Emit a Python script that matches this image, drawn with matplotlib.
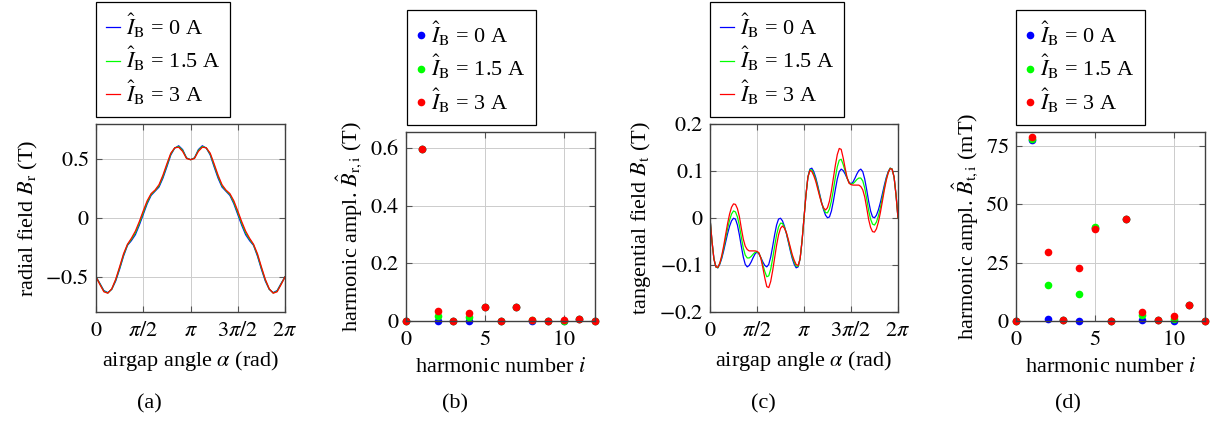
import numpy as np
import matplotlib
matplotlib.use('Agg')
import matplotlib.pyplot as plt

plt.rcParams['font.family'] = ['Liberation Serif', 'DejaVu Serif']
plt.rcParams['mathtext.fontset'] = 'stix'
FS = 16
plt.rcParams['font.size'] = FS

# panel (a): samples every pi/24 over 0..2pi
steps_a = list(range(49))
br_0 = [-0.495, -0.55, -0.61, -0.627, -0.60, -0.53, -0.43, -0.32, -0.23, -0.19, -0.14, -0.06,
        0.03, 0.12, 0.19, 0.225, 0.26, 0.335, 0.43, 0.53, 0.588, 0.607, 0.575, 0.505,
        0.49,
        0.505, 0.575, 0.607, 0.588, 0.53, 0.43, 0.335, 0.26, 0.225, 0.19, 0.12, 0.03,
        -0.06, -0.14, -0.19, -0.23, -0.32, -0.43, -0.53, -0.60, -0.627, -0.61, -0.55, -0.495]
br_15 = [-0.495, -0.555, -0.615, -0.63, -0.598, -0.522, -0.42, -0.31, -0.225, -0.18, -0.125, -0.045,
         0.045, 0.132, 0.198, 0.23, 0.27, 0.348, 0.443, 0.538, 0.589, 0.601, 0.568, 0.503,
         0.49,
         0.503, 0.568, 0.601, 0.589, 0.538, 0.443, 0.348, 0.27, 0.23, 0.198, 0.132, 0.045,
         -0.045, -0.125, -0.18, -0.225, -0.31, -0.42, -0.522, -0.598, -0.63, -0.615, -0.555, -0.495]
br_3 = [-0.495, -0.56, -0.62, -0.632, -0.595, -0.515, -0.41, -0.30, -0.22, -0.17, -0.11, -0.03,
        0.06, 0.145, 0.205, 0.235, 0.28, 0.36, 0.455, 0.545, 0.59, 0.595, 0.56, 0.50,
        0.49,
        0.50, 0.56, 0.595, 0.59, 0.545, 0.455, 0.36, 0.28, 0.235, 0.205, 0.145, 0.06,
        -0.03, -0.11, -0.17, -0.22, -0.30, -0.41, -0.515, -0.595, -0.632, -0.62, -0.56, -0.495]

# panel (c): samples every pi/48 over 0..2pi
steps_c = list(range(97))
bt_0 = [0, -0.049, -0.087, -0.104, -0.106, -0.0985, -0.086, -0.0695, -0.051, -0.033, -0.0174, -0.006,
        -0.0005, -0.0023, -0.0149, -0.0358, -0.0604, -0.083, -0.0987, -0.104, -0.101, -0.0937, -0.0845, -0.0764,
        -0.0722, -0.0764, -0.0845, -0.0937, -0.101, -0.104, -0.0987, -0.083, -0.0604, -0.0358, -0.0149, -0.0023,
        -0.0005, -0.006, -0.0174, -0.033, -0.051, -0.0695, -0.086, -0.0985, -0.106, -0.104, -0.087, -0.049,
        0,
        0.049, 0.087, 0.104, 0.106, 0.0985, 0.086, 0.0695, 0.051, 0.033, 0.0174, 0.006, 0.0005,
        0.0023, 0.0149, 0.0358, 0.0604, 0.083, 0.0987, 0.104, 0.101, 0.0937, 0.0845, 0.0764, 0.0722,
        0.0764, 0.0845, 0.0937, 0.101, 0.104, 0.0987, 0.083, 0.0604, 0.0358, 0.0149, 0.0023, 0.0005,
        0.006, 0.0174, 0.033, 0.051, 0.0695, 0.086, 0.0985, 0.106, 0.104, 0.087, 0.049, 0]
bt_15 = [0, -0.049, -0.087, -0.104, -0.106, -0.097, -0.083, -0.064, -0.043, -0.022, -0.0045, 0.0085,
         0.015, 0.013, 0.0025, -0.016, -0.041, -0.064, -0.079, -0.085, -0.085, -0.082, -0.077, -0.073,
         -0.072, -0.075, -0.085, -0.100, -0.114, -0.125, -0.123, -0.109, -0.086, -0.060, -0.036, -0.019,
         -0.011, -0.0115, -0.0195, -0.032, -0.0485, -0.066, -0.082, -0.094, -0.1025, -0.1025, -0.087, -0.049,
         0,
         0.049, 0.087, 0.1025, 0.1025, 0.094, 0.082, 0.066, 0.0485, 0.032, 0.0195, 0.0115, 0.011,
         0.019, 0.036, 0.060, 0.086, 0.109, 0.123, 0.125, 0.114, 0.100, 0.085, 0.075, 0.072,
         0.073, 0.077, 0.082, 0.085, 0.085, 0.079, 0.064, 0.041, 0.016, -0.0025, -0.013, -0.015,
         -0.0085, 0.0045, 0.022, 0.043, 0.064, 0.083, 0.097, 0.106, 0.104, 0.087, 0.049, 0]
bt_3 = [0, -0.049, -0.087, -0.104, -0.105, -0.096, -0.080, -0.059, -0.035, -0.0115, 0.0085, 0.023,
        0.030, 0.029, 0.020, 0.003, -0.022, -0.045, -0.060, -0.067, -0.070, -0.070, -0.070, -0.070,
        -0.071, -0.074, -0.086, -0.106, -0.128, -0.146, -0.148, -0.135, -0.112, -0.085, -0.058, -0.036,
        -0.022, -0.017, -0.0215, -0.031, -0.046, -0.062, -0.078, -0.090, -0.099, -0.101, -0.087, -0.049,
        0,
        0.049, 0.087, 0.101, 0.099, 0.090, 0.078, 0.062, 0.046, 0.031, 0.0215, 0.017, 0.022,
        0.036, 0.058, 0.085, 0.112, 0.135, 0.148, 0.146, 0.128, 0.106, 0.086, 0.074, 0.071,
        0.070, 0.070, 0.070, 0.070, 0.067, 0.060, 0.045, 0.022, -0.003, -0.020, -0.029, -0.030,
        -0.023, -0.0085, 0.0115, 0.035, 0.059, 0.080, 0.096, 0.105, 0.104, 0.087, 0.049, 0]

# harmonic amplitudes, panels (b) in T and (d) in mT
harm_i = list(range(13))
bri_0 = [0, 0.595, 0.0, 0, 0.0, 0.048, 0, 0.048, 0.0, 0, 0.0, 0.007, 0]
bri_15 = [0, 0.595, 0.018, 0, 0.015, 0.048, 0, 0.048, 0.002, 0, 0.001, 0.007, 0]
bri_3 = [0, 0.595, 0.035, 0, 0.027, 0.048, 0, 0.048, 0.003, 0, 0.002, 0.007, 0]
bti_0 = [0, 77.5, 0.9, 0.3, 0.0, 40.0, 0.2, 43.8, 0.6, 0.3, 0.0, 6.8, 0.2]
bti_15 = [0, 77.8, 15.4, 0.3, 11.5, 40.2, 0.2, 43.8, 2.6, 0.3, 1.0, 6.8, 0.2]
bti_3 = [0, 78.7, 29.5, 0.3, 22.8, 39.5, 0.2, 43.8, 4.0, 0.3, 2.1, 6.8, 0.2]

labels = [r'$\hat{I}_\mathrm{B}$ = 0 A',
          r'$\hat{I}_\mathrm{B}$ = 1.5 A',
          r'$\hat{I}_\mathrm{B}$ = 3 A']
colors = ['#0000ff', '#00ff00', '#ff0000']

W, H = 1211, 423
fig = plt.figure(figsize=(W / 100, H / 100), dpi=100)


def add_ax(left, top, right, bottom):
    return fig.add_axes([left / W, 1 - bottom / H, (right - left) / W, (bottom - top) / H])


def style(ax):
    ax.grid(True, color='#cccccc', lw=0.7)
    ax.set_axisbelow(True)
    for s in ax.spines.values():
        s.set_color('#404040')
        s.set_linewidth(1.0)
    ax.tick_params(direction='in', top=True, right=True, length=4, width=0.8,
                   color='#555555', labelsize=FS)
    ax.tick_params(axis='x', pad=7)
    ax.tick_params(axis='y', pad=5)


def legend(ax, x0, y0, marker):
    leg = ax.legend(loc='upper left', bbox_to_anchor=(x0 / W, 1 - y0 / H),
                    bbox_transform=fig.transFigure, borderaxespad=0,
                    fancybox=False, framealpha=1, edgecolor='black',
                    handlelength=0.4 if marker else 0.65, handletextpad=0.25,
                    labelspacing=0.22, borderpad=0.45, numpoints=1, fontsize=FS)
    leg.get_frame().set_linewidth(0.9)


alpha_a = np.array(steps_a) * np.pi / 24
alpha_c = np.array(steps_c) * np.pi / 48
pi_ticks = [0, np.pi / 2, np.pi, 3 * np.pi / 2, 2 * np.pi]
pi_labels = ['$0$', r'$\pi/2$', r'$\pi$', r'$3\pi/2$', r'$2\pi$']

# (a)
ax = add_ax(96, 124, 285, 312)
for ys, c, lab in zip([br_0, br_15, br_3], colors, labels):
    ax.plot(alpha_a, ys, color=c, lw=0.9, label=lab)
ax.set_xlim(0, 2 * np.pi)
ax.set_ylim(-0.79, 0.79)
ax.set_xticks(pi_ticks, pi_labels)
ax.set_yticks([-0.5, 0, 0.5], ['$-0.5$', '$0$', '$0.5$'])
ax.set_xlabel(r'airgap angle $\alpha$ (rad)', labelpad=6)
ax.set_ylabel(r'radial field $B_\mathrm{r}$ (T)', labelpad=4)
style(ax)
legend(ax, 96, 2, False)

# (b)
ax = add_ax(406, 132, 595, 321)
for ys, c, lab in zip([bri_0, bri_15, bri_3], colors, labels):
    ax.plot(harm_i, ys, 'o', color=c, ms=5.5, mew=0, label=lab, clip_on=False)
ax.set_xlim(0, 12)
ax.set_ylim(0, 0.655)
ax.set_xticks([0, 5, 10], ['$0$', '$5$', '$10$'])
ax.set_yticks([0, 0.2, 0.4, 0.6], ['$0$', '$0.2$', '$0.4$', '$0.6$'])
ax.set_xlabel(r'harmonic number $i$', labelpad=6)
ax.set_ylabel(r'harmonic ampl. $\hat{B}_{\mathrm{r,i}}$ (T)', labelpad=4)
style(ax)
legend(ax, 407, 10, True)

# (c)
ax = add_ax(710, 124, 898, 312)
for ys, c, lab in zip([bt_0, bt_15, bt_3], colors, labels):
    ax.plot(alpha_c, ys, color=c, lw=0.9, label=lab)
ax.set_xlim(0, 2 * np.pi)
ax.set_ylim(-0.2, 0.2)
ax.set_xticks(pi_ticks, pi_labels)
ax.set_yticks([-0.2, -0.1, 0, 0.1, 0.2], ['$-0.2$', '$-0.1$', '$0$', '$0.1$', '$0.2$'])
ax.set_xlabel(r'airgap angle $\alpha$ (rad)', labelpad=6)
ax.set_ylabel(r'tangential field $B_\mathrm{t}$ (T)', labelpad=4)
style(ax)
legend(ax, 710, 2, False)

# (d)
ax = add_ax(1016, 132, 1205, 321)
for ys, c, lab in zip([bti_0, bti_15, bti_3], colors, labels):
    ax.plot(harm_i, ys, 'o', color=c, ms=5.5, mew=0, label=lab, clip_on=False)
ax.set_xlim(0, 12)
ax.set_ylim(0, 81)
ax.set_xticks([0, 5, 10], ['$0$', '$5$', '$10$'])
ax.set_yticks([0, 25, 50, 75], ['$0$', '$25$', '$50$', '$75$'])
ax.set_xlabel(r'harmonic number $i$', labelpad=6)
ax.set_ylabel(r'harmonic ampl. $\hat{B}_{\mathrm{t,i}}$ (mT)', labelpad=4)
style(ax)
legend(ax, 1016, 10, True)

for cx, cap in zip([149, 455, 763, 1068], ['(a)', '(b)', '(c)', '(d)']):
    fig.text(cx / W, 1 - 404 / H, cap, ha='center', va='center', fontsize=FS)

fig.savefig('out.png', dpi=100)
